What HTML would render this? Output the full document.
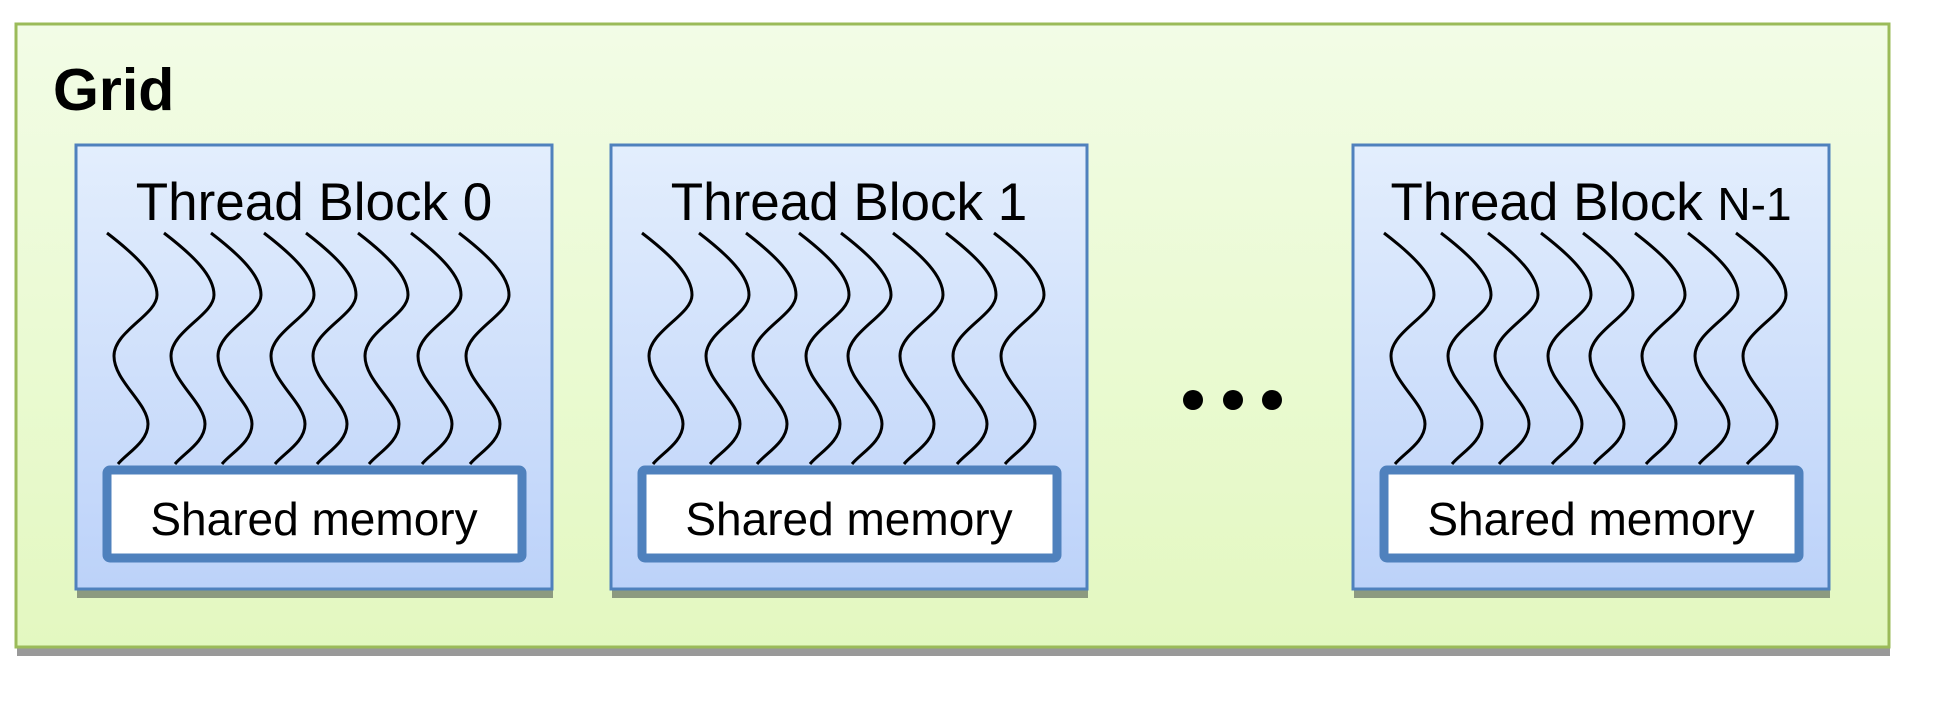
<!DOCTYPE html>
<html><head><meta charset="utf-8"><style>
html,body{margin:0;padding:0;background:#fff;width:1940px;height:707px;overflow:hidden}
</style></head><body>
<svg width="1940" height="707" xmlns="http://www.w3.org/2000/svg" font-family="'Liberation Sans', sans-serif">
<defs>
<linearGradient id="gg" x1="0" y1="0" x2="0" y2="1"><stop offset="0" stop-color="#f2fce6"/><stop offset="1" stop-color="#e3f8c0"/></linearGradient>
<linearGradient id="bg" x1="0" y1="0" x2="0" y2="1"><stop offset="0" stop-color="#e3eefd"/><stop offset="1" stop-color="#bcd2f9"/></linearGradient>
<path id="t" d="M0,233 C30,256 50,276 50,295 C50,315 7,331 7,356 C7,381 41,403 41,424 C41,442 20,453 11,464"/>
<g id="blk">
<rect x="1" y="9" width="476" height="444" fill="#8c9a80"/>
<rect x="0" y="0" width="476" height="444" fill="url(#bg)" stroke="#4f81bd" stroke-width="3"/>
<g transform="translate(0,-145)" fill="none" stroke="#000" stroke-width="3">
<use href="#t" x="31"/><use href="#t" x="88"/><use href="#t" x="135"/><use href="#t" x="188"/>
<use href="#t" x="230"/><use href="#t" x="282"/><use href="#t" x="335"/><use href="#t" x="383"/>
</g>
<rect x="31" y="325" width="415" height="88" rx="3" fill="#fff" stroke="#4f81bd" stroke-width="9"/>
<text x="238" y="390" font-size="46" text-anchor="middle" fill="#000">Shared memory</text>
</g>
</defs>
<rect x="17" y="33" width="1873" height="623" fill="#999"/>
<rect x="16" y="24" width="1873" height="623" fill="url(#gg)" stroke="#9bbb59" stroke-width="3"/>
<text x="53" y="110" font-size="59" font-weight="bold" fill="#000">Grid</text>
<use href="#blk" x="76" y="145"/>
<use href="#blk" x="611" y="145"/>
<use href="#blk" x="1353" y="145"/>
<text x="314" y="220" font-size="53" text-anchor="middle">Thread Block 0</text>
<text x="849" y="220" font-size="53" text-anchor="middle">Thread Block 1</text>
<text x="1591" y="220" font-size="53" text-anchor="middle">Thread Block <tspan font-size="46">N-1</tspan></text>
<circle cx="1193" cy="400" r="10" fill="#000"/>
<circle cx="1233" cy="400" r="10" fill="#000"/>
<circle cx="1272" cy="400" r="10" fill="#000"/>
</svg>
</body></html>
